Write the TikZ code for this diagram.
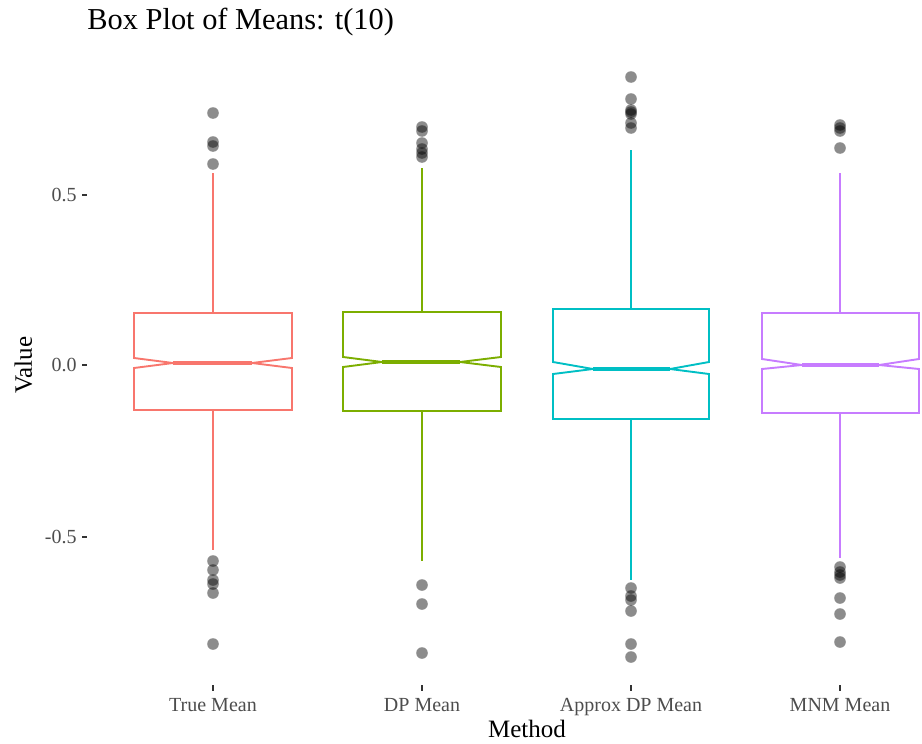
\documentclass[tikz,border=0pt]{standalone}
\usepackage{fontspec}
\setmainfont{Liberation Serif}
\definecolor{c1}{HTML}{F8766D}
\definecolor{c2}{HTML}{7CAE00}
\definecolor{c3}{HTML}{00BFC4}
\definecolor{c4}{HTML}{C77CFF}
\definecolor{ticktext}{HTML}{4D4D4D}
\definecolor{tickline}{HTML}{333333}
\tikzset{
  boxline/.style={line width=0.95pt, line join=miter},
  medline/.style={line width=1.9pt},
  outl/.style={fill=black, fill opacity=0.45, draw=none},
  ticklab/.style={font=\fontsize{10}{12}\selectfont, text=ticktext, inner sep=0pt},
  axtitle/.style={font=\fontsize{12.5}{15}\selectfont, inner sep=0pt},
  tickmark/.style={draw=tickline, line width=0.6pt}
}
\begin{document}
\begin{tikzpicture}[x=0.5pt, y=-0.5pt]
\useasboundingbox (0,0) rectangle (922,744);
% title
\node[font=\fontsize{15.2}{18}\selectfont, anchor=base west, inner sep=0pt] (title) at (87,30) {Box Plot of Means: t(10)};
% y axis ticks and labels
\foreach \v/\y/\n in {0.5/195/a, 0.0/365/b, -0.5/537/c}{
  \coordinate (yt\n) at (87,\y);
  \draw[tickmark] (82,\y) -- (yt\n);
  \node[ticklab, anchor=east] (yl\n) at (77,\y) {\v};
}
\node[axtitle, rotate=90, anchor=base] (ytitle) at (32,365) {Value};
% x axis ticks and labels
\foreach \cx/\lab/\n in {213/True Mean/a, 422/DP Mean/b, 631/Approx DP Mean/c, 840/MNM Mean/d}{
  \coordinate (xt\n) at (\cx,691);
  \draw[tickmark] (\cx,685) -- (xt\n);
  \node[ticklab, anchor=base] (xl\n) at (\cx,711) {\lab};
}
\node[axtitle, anchor=base] (xtitle) at (527,737) {Method};
% boxes
\foreach \col/\cx/\xa/\xb/\t/\b/\nt/\nb/\m/\na/\nbb/\wt/\wb in {
  c1/213/134/292/313/410/358/368/363/173/252/173/550,
  c2/422/343/501/312/411/357/367/362/382/460/168/561,
  c3/631/553/709/309/419/362/374/369/593/670/150/580,
  c4/840/762/919/313/413/359/369/365/802/879/173/558}{
  \draw[boxline, draw=\col] (\xa,\t) -- (\xb,\t) -- (\xb,\nt) -- (\nbb,\m) -- (\xb,\nb) -- (\xb,\b) -- (\xa,\b) -- (\xa,\nb) -- (\na,\m) -- (\xa,\nt) -- cycle;
  \draw[medline, draw=\col] (\na,\m) -- (\nbb,\m);
  \draw[boxline, draw=\col] (\cx,\t) -- (\cx,\wt);
  \draw[boxline, draw=\col] (\cx,\b) -- (\cx,\wb);
}
% outliers
\foreach \x/\y in {
  213/113, 213/142, 213/146, 213/164, 213/561, 213/570, 213/580, 213/584, 213/593, 213/644,
  422/127, 422/131, 422/143, 422/149, 422/153, 422/157, 422/585, 422/604, 422/653,
  631/77, 631/99, 631/110, 631/112, 631/114, 631/123, 631/128, 631/588, 631/596, 631/600, 631/611, 631/644, 631/657,
  840/125, 840/128, 840/131, 840/148, 840/567, 840/572, 840/575, 840/578, 840/598, 840/614, 840/642}{
  \fill[outl] (\x,\y) circle[radius=2.9pt];
}
\end{tikzpicture}
\end{document}
